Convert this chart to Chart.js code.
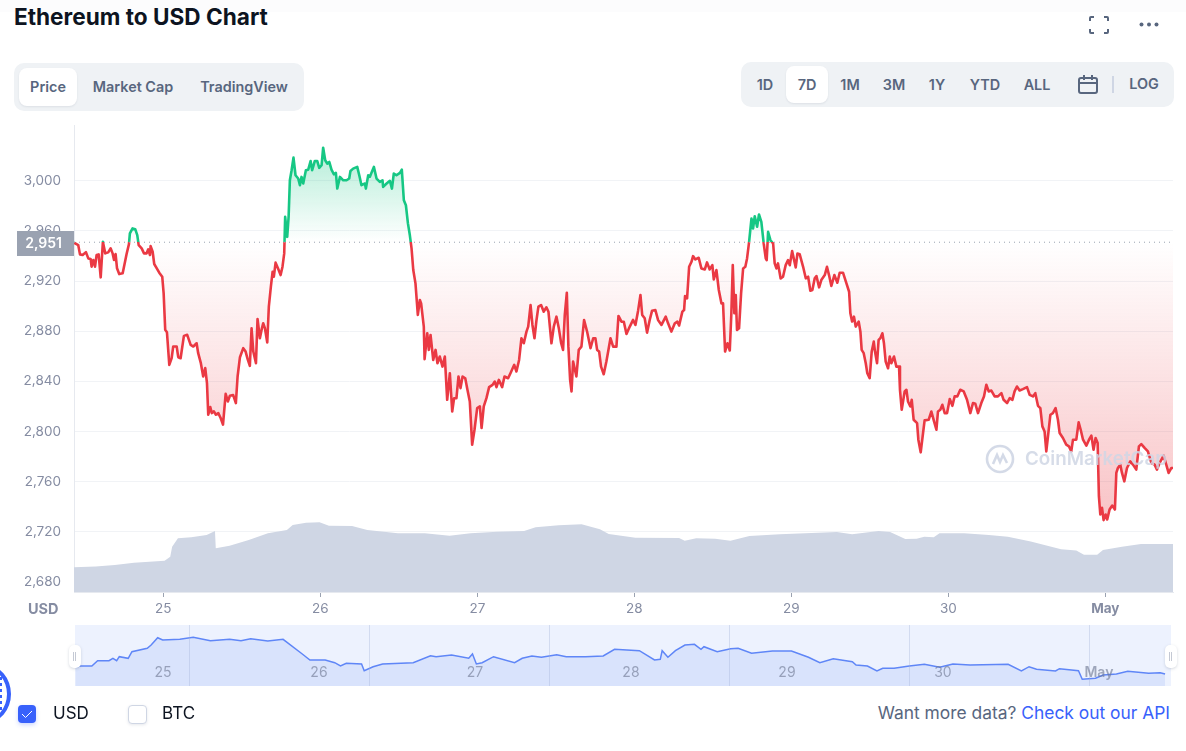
<!DOCTYPE html>
<html>
<head>
<meta charset="utf-8">
<title>Ethereum to USD Chart</title>
<script src="https://cdn.jsdelivr.net/npm/chart.js@4/dist/chart.umd.min.js"></script>
<style>
  html, body { margin: 0; padding: 0; background: #fff; }
  body { width: 1186px; height: 751px; position: relative; overflow: hidden; font-family: Inter, sans-serif; color: #58667e; }
  .abs { position: absolute; }
  .topstrip { left: 0; top: 0; width: 1186px; height: 12px; background: #fcfcfd; }
  h1 { position: absolute; left: 14px; top: 3px; margin: 0; font-size: 22.6px; line-height: 28px; font-weight: 700; color: #0d1421; white-space: nowrap; }
  .group { background: #eff2f5; border-radius: 10px; }
  .active { background: #fff; border-radius: 8px; box-shadow: 0 1px 2px rgba(88,102,126,.12); }
  .btn { position: absolute; font-size: 14.4px; font-weight: 600; line-height: 20px; transform: translateX(-50%); white-space: nowrap; }
  #mainChart { position: absolute; left: 0; top: 120px; }
  #navChart { position: absolute; left: 75px; top: 625px; background: #edf2fe; }
  .usd { left: 28px; top: 600px; font-size: 14.5px; line-height: 17px; font-weight: 700; color: #858ca2; }
  .navEdge { left: 1166px; top: 625px; width: 5px; height: 61px; background: #edf2fe; }
  .handle { top: 645px; width: 12px; height: 23px; background: #fff; border-radius: 5px; box-shadow: 0 1px 3px rgba(88,102,126,.25); }
  .handle::after { content: ""; position: absolute; left: 4px; top: 7px; width: 1px; height: 9px; border-left: 1.5px solid #c4c9d4; border-right: 1.5px solid #c4c9d4; }
  .mark { left: 985px; top: 444px; width: 30px; height: 30px; }
  .markText { left: 1025px; top: 446px; font-size: 18.8px; line-height: 26px; font-weight: 600; color: rgba(207,214,228,.85); white-space: nowrap; }
  .badge { left: -39px; top: 665px; width: 42px; height: 50px; border: 4px solid #3861fb; border-radius: 50%; }
  .badgeDots { left: 0; top: 677px; width: 2px; height: 34px; background: repeating-linear-gradient(#3861fb 0 3px, transparent 3px 6px); }
  .chk { top: 705px; width: 18px; height: 18px; border-radius: 4px; }
  .lab { top: 703px; font-size: 17px; line-height: 20px; color: #0d1421; }
  .more { right: 16px; top: 703px; font-size: 17.4px; line-height: 20px; white-space: nowrap; }
  .more a { color: #3861fb; text-decoration: none; }
</style>
</head>
<body>
<div class="abs topstrip"></div>
<h1>Ethereum to USD Chart</h1>

<svg class="abs" style="left:1089px;top:16px" width="20" height="18" viewBox="0 0 20 18" fill="none" stroke="#58667e" stroke-width="2">
  <path d="M1 5V2a1 1 0 0 1 1-1h3M15 1h3a1 1 0 0 1 1 1v3M19 13v3a1 1 0 0 1-1 1h-3M5 17H2a1 1 0 0 1-1-1v-3"/>
</svg>
<svg class="abs" style="left:1139px;top:22px" width="20" height="5" viewBox="0 0 20 5" fill="#58667e">
  <circle cx="2.5" cy="2.5" r="2"/><circle cx="10" cy="2.5" r="2"/><circle cx="17.5" cy="2.5" r="2"/>
</svg>

<div class="abs group" style="left:14px;top:63px;width:290px;height:48px"></div>
<div class="abs active" style="left:19px;top:68px;width:58px;height:38px"></div>
<div class="btn" style="left:48px;top:77px">Price</div>
<div class="btn" style="left:133px;top:77px">Market Cap</div>
<div class="btn" style="left:244px;top:77px">TradingView</div>

<div class="abs group" style="left:741px;top:62px;width:433px;height:45px"></div>
<div class="abs active" style="left:786px;top:66px;width:42px;height:37px"></div>
<div class="btn" style="left:765px;top:75px">1D</div>
<div class="btn" style="left:807px;top:75px">7D</div>
<div class="btn" style="left:850px;top:75px">1M</div>
<div class="btn" style="left:894px;top:75px">3M</div>
<div class="btn" style="left:937px;top:75px">1Y</div>
<div class="btn" style="left:985px;top:75px">YTD</div>
<div class="btn" style="left:1037px;top:75px">ALL</div>
<svg class="abs" style="left:1078px;top:75px" width="20" height="19" viewBox="0 0 20 19" fill="none" stroke="#58667e" stroke-width="2">
  <rect x="1" y="3" width="18" height="15" rx="2"/><path d="M1 8h18M6 0v5M14 0v5"/>
</svg>
<div class="abs" style="left:1112px;top:76px;width:2px;height:17px;background:#cfd6e4"></div>
<div class="btn" style="left:1144px;top:74px">LOG</div>

<canvas id="mainChart" width="1186" height="500"></canvas>
<div class="abs usd">USD</div>

<svg class="abs mark" viewBox="0 0 30 30" fill="none" stroke="rgba(207,214,228,.9)" stroke-width="2.6">
  <circle cx="15" cy="15" r="13"/><path d="M8 20l4-9 3 7 3-7 4 8"/>
</svg>
<div class="abs markText">CoinMarketCap</div>

<canvas id="navChart" width="1096" height="61"></canvas>
<div class="abs navEdge"></div>
<div class="abs handle" style="left:69px"></div>
<div class="abs handle" style="left:1165px"></div>

<div class="abs badge"></div>
<div class="abs badgeDots"></div>
<div class="abs chk" style="left:18px;background:#3861fb;box-shadow:0 2px 4px rgba(56,97,251,.25)">
  <svg width="18" height="18" viewBox="0 0 18 18" fill="none" stroke="#fff" stroke-width="1"><path d="M4 9l3.5 3.5L14 6"/></svg>
</div>
<div class="abs lab" style="left:53px">USD</div>
<div class="abs chk" style="left:128px;width:17px;height:17px;background:#fff;border:1px solid #cfd6e4;box-shadow:0 1px 3px rgba(88,102,126,.15)"></div>
<div class="abs lab" style="left:162px">BTC</div>
<div class="abs more">Want more data? <a>Check out our API</a></div>

<script>
const baselinePrice = 2951;

const yTickValues = [2680, 2720, 2760, 2800, 2840, 2880, 2920, 2960, 3000];
const xTickValues = [25, 26, 27, 28, 29, 30, 31];
const xTickLabels = ["25", "26", "27", "28", "29", "30", "May"];

// day of the month, April runs on so 31 is 1 May
const priceDays = [
  24.431,24.458,24.469,24.486,24.507,24.522,24.537,24.543,24.554,24.565,24.575,24.588,24.601,24.615,24.630,24.649,24.664,24.677,24.686,24.696,
  24.705,24.719,24.741,24.756,24.766,24.781,24.787,24.804,24.821,24.834,24.843,24.862,24.877,24.893,24.904,24.915,24.919,24.932,24.942,24.961,
  24.974,24.993,25.002,25.012,25.023,25.038,25.053,25.063,25.085,25.095,25.110,25.131,25.152,25.174,25.191,25.212,25.222,25.239,25.254,25.267,
  25.278,25.286,25.299,25.309,25.322,25.335,25.350,25.365,25.380,25.397,25.411,25.424,25.445,25.462,25.473,25.488,25.509,25.524,25.537,25.551,
  25.562,25.573,25.590,25.600,25.615,25.628,25.636,25.647,25.662,25.672,25.685,25.696,25.704,25.715,25.730,25.747,25.759,25.770,25.776,25.789,
  25.798,25.806,25.817,25.829,25.842,25.859,25.870,25.880,25.891,25.908,25.923,25.938,25.948,25.965,25.980,25.993,26.008,26.018,26.031,26.044,
  26.057,26.071,26.086,26.099,26.108,26.125,26.146,26.167,26.184,26.192,26.209,26.235,26.248,26.262,26.284,26.290,26.305,26.315,26.341,26.358,
  26.379,26.396,26.400,26.422,26.443,26.456,26.468,26.485,26.507,26.519,26.532,26.545,26.558,26.570,26.581,26.592,26.606,26.621,26.634,
  26.642,26.659,26.664,26.681,26.691,26.702,26.719,26.734,26.746,26.761,26.778,26.793,26.808,26.825,26.840,26.852,26.867,26.880,26.893,26.906,
  26.923,26.937,26.952,26.967,26.982,26.999,27.016,27.027,27.041,27.058,27.075,27.097,27.111,27.122,27.137,27.158,27.173,27.196,27.211,27.235,
  27.249,27.266,27.281,27.296,27.313,27.324,27.339,27.351,27.364,27.377,27.389,27.406,27.423,27.440,27.453,27.472,27.487,27.504,27.519,27.534,
  27.546,27.557,27.570,27.580,27.591,27.600,27.610,27.631,27.646,27.663,27.680,27.699,27.721,27.738,27.752,27.763,27.776,27.788,27.805,27.822,
  27.835,27.848,27.865,27.886,27.899,27.918,27.933,27.950,27.971,27.992,28.007,28.024,28.039,28.050,28.066,28.081,28.098,28.113,28.134,28.151,
  28.173,28.200,28.215,28.236,28.258,28.274,28.285,28.306,28.317,28.323,28.336,28.349,28.364,28.374,28.389,28.410,28.427,28.449,28.463,28.480,
  28.497,28.506,28.523,28.538,28.555,28.565,28.578,28.593,28.608,28.618,28.627,28.637,28.646,28.654,28.667,28.680,28.693,28.707,28.718,28.731,
  28.746,28.756,28.767,28.782,28.794,28.809,28.824,28.837,28.843,28.852,28.867,28.884,28.894,28.905,28.915,28.932,28.947,28.964,28.979,28.990,
  29.005,29.028,29.039,29.053,29.075,29.092,29.107,29.121,29.134,29.149,29.160,29.177,29.191,29.213,29.227,29.240,29.255,29.274,29.293,29.308,
  29.329,29.351,29.368,29.376,29.387,29.399,29.410,29.429,29.440,29.448,29.461,29.474,29.484,29.499,29.512,29.525,29.533,29.546,29.556,29.567,
  29.580,29.590,29.601,29.616,29.627,29.637,29.654,29.669,29.686,29.692,29.703,29.722,29.733,29.743,29.758,29.767,29.779,29.801,29.809,29.824,
  29.839,29.849,29.875,29.892,29.909,29.924,29.934,29.949,29.962,29.977,29.992,30.009,30.026,30.040,30.057,30.076,30.098,30.119,30.140,30.157,
  30.172,30.189,30.210,30.227,30.242,30.257,30.274,30.295,30.316,30.338,30.352,30.374,30.391,30.408,30.422,30.437,30.454,30.475,30.501,30.518,
  30.539,30.554,30.571,30.586,30.599,30.613,30.624,30.637,30.650,30.666,30.683,30.698,30.709,30.730,30.751,30.768,30.783,30.794,30.815,30.830,
  30.843,30.858,30.879,30.896,30.911,30.925,30.938,30.951,30.959,30.968,30.979,30.989,31.002,31.012,31.027,31.044,31.061,31.070,31.080,31.095,
  31.106,31.121,31.138,31.159,31.176,31.197,31.214,31.229,31.250,31.271,31.293,31.314,31.329,31.346,31.371,31.388,31.403,31.420,31.431
];
const priceValues = [
  2950.6,2948.7,2941.3,2940.8,2943.1,2938.1,2937.6,2931.5,2936.8,2931.5,2940.8,2941.3,2923,2951.4,2942.1,2942.9,2946.1,2942.1,2936.8,2941.6,
  2930.2,2925.6,2926.2,2935.4,2941.6,2949.5,2958,2962,2961.4,2956.7,2948.7,2946.1,2942.1,2942.1,2945.3,2940.8,2947.9,2943.4,2933.6,2929.6,
  2926.7,2923.5,2910.2,2881.1,2879.2,2853.2,2858.5,2867.8,2867.8,2859.3,2858.5,2876.3,2877.1,2869.1,2867.8,2870.4,2862.5,2854.5,2843.9,2850.6,
  2838.6,2813.4,2819.5,2814.7,2816.1,2813.4,2814.7,2810.8,2805.5,2830.1,2824,2828.5,2829.1,2822.7,2843.9,2859.3,2866.5,2863.8,2857.7,2852.4,
  2882.4,2863.8,2854.5,2889.8,2874.4,2882.4,2886.4,2882.4,2871,2899.6,2915.5,2927.5,2923.5,2934.7,2930.2,2924.8,2931.5,2942.1,2971.3,2955.3,
  2971.3,3000.4,3008.4,3018.5,3004.4,3001.8,2996.5,3003.1,2997.8,3008.4,3008.9,3015.8,3008.4,3015.8,3015.8,3010.3,3012.4,3026.4,3016.4,3013.7,
  3015,3008.9,3005.2,3006.3,2993.8,3003.1,3000.4,3000.4,3001.8,3007.9,3009.7,3011.1,3004.4,2996.5,2997.8,2993.8,3004.4,3003.1,3011.1,3001.8,
  2999.1,3000.4,2995.1,2997.8,3000,2993.8,3005.8,3004.4,3006.3,3008.9,2984.5,2980.5,2966,2956.7,2946.1,2928.8,2918.2,2893,2904.9,
  2902.2,2883.7,2857.7,2878.4,2865.1,2877,2857.1,2865.1,2854.5,2859.8,2851.8,2859.8,2825.3,2846.5,2816,2826.6,2826.6,2843.9,2834.6,2843.9,
  2842.5,2833.3,2824,2789.5,2801.4,2818.7,2820,2802.8,2820,2826.6,2835.4,2837.2,2839.9,2835.4,2841.2,2835.4,2843.9,2842.5,2846.5,2853.2,
  2847.9,2857.1,2874.4,2870.4,2879.7,2883.7,2900.9,2885,2874.4,2889,2899.6,2900.9,2895.6,2899.1,2895.6,2870.4,2883.7,2891.6,2882.3,2870.4,
  2865.1,2893,2910.7,2867.7,2841.2,2831.9,2855.8,2843.9,2865.1,2867.7,2889,2879.7,2866.4,2874.4,2874.4,2865.1,2863.8,2851.8,2845.7,2855.8,
  2865.1,2874.4,2867.7,2867.7,2892.2,2887.6,2887.6,2877.8,2883.7,2889,2885,2896.4,2908.9,2893,2890.3,2878.9,2889,2896.4,2896.9,2889,
  2885,2891.6,2886.3,2879.7,2886.3,2887.6,2884.5,2895.6,2896.9,2908.1,2906.2,2931.4,2935.4,2939.9,2937.3,2938.6,2930.1,2929.3,2934.9,2929.3,
  2932.7,2921.3,2928.8,2912.9,2902.2,2902.2,2863.8,2870.4,2864.6,2894.3,2932.7,2894.3,2908.9,2881,2882.3,2910.2,2930.1,2931.4,2938.1,2951.3,
  2969.9,2961.9,2971.7,2963.3,2973.1,2967.2,2950,2938.1,2936.7,2959.3,2952.6,2950,2934.1,2930.1,2934.1,2922.1,2923.5,2932.7,2936.7,2932.7,
  2943.9,2930.9,2942,2941.5,2931.4,2922.2,2923.5,2912.3,2912.9,2922.2,2924,2915,2920.8,2924.8,2931.4,2924.8,2916.1,2924.8,2918.7,2926.7,
  2926.7,2918.2,2911.5,2894.3,2887.7,2891.6,2883.7,2887.7,2879.7,2865.1,2862.5,2854.5,2846.5,2842.6,2863.8,2871.7,2863.8,2854.5,2873.1,2874.4,
  2878.4,2870.4,2855.8,2850.5,2859.8,2854.5,2859.8,2851.8,2851.8,2833.3,2817.4,2832,2833.3,2824,2820,2825.3,2809.4,2806.7,2793.5,2783.4,
  2798.8,2808.9,2809.4,2816,2808.1,2801.4,2816,2817.4,2821.3,2814.7,2814.7,2825.9,2820.5,2828,2828,2833.3,2832,2825.3,2814.7,2822.7,
  2822.1,2814.7,2822.7,2828,2837.3,2832,2832.7,2828,2828,2830.6,2825.3,2822.7,2826.6,2825.3,2832,2835.9,2832.7,2833.8,2835.4,2829.3,
  2828,2830.6,2820.5,2818.7,2804.1,2800.1,2784.2,2798.8,2813.4,2814.7,2818.7,2809.4,2798.8,2794.8,2789.5,2788.2,2784.2,2793.5,2793.5,2807.3,
  2801.4,2793.5,2788.7,2793.5,2796.7,2785.5,2794.8,2790.8,2748.4,2733.8,2739.1,2729.3,2733.8,2729.8,2737.8,2741,2737.8,2767,2770.9,2773.6,
  2767,2760.3,2770.9,2776.2,2773.6,2769.6,2788.2,2790,2786.9,2784.2,2774.9,2773.6,2769.6,2774.9,2780.8,2773.6,2767,2770.9,2770.9
];

const volumeDays = [
  24.431,24.569,24.691,24.813,25.008,25.044,25.056,25.093,25.178,25.276,25.329,25.334,25.422,25.544,25.666,25.787,25.824,25.909,25.995,26.055,
  26.202,26.299,26.494,26.665,26.823,26.957,27.128,27.298,27.371,27.518,27.664,27.781,27.837,28.007,28.285,28.321,28.394,28.515,28.612,28.733,
  28.927,29.169,29.290,29.387,29.556,29.629,29.726,29.798,29.847,29.907,29.944,30.101,30.258,30.379,30.525,30.718,30.815,30.864,30.948,30.985,
  31.106,31.227,31.431
];
// billions of dollars
const volumeValues = [
  7.06,7.25,7.72,8.39,8.96,10.1,12.96,15.34,15.62,16.29,17.43,12.48,13.24,14.86,16.77,17.72,19.15,19.81,19.91,18.96,
  18.86,17.72,16.77,16.77,16.1,16.77,17.24,17.43,18.48,19.05,19.34,17.91,16.58,15.53,15.43,14.67,15.34,15.24,14.67,16,
  16.48,16.96,17.15,16.48,17.43,17.15,15.15,15.24,15.81,15.62,16.77,16.77,16.29,15.81,14.39,12.2,11.82,10.67,10.67,12,
  12.96,13.72,13.72
];

const navDays = [
  24.438,24.470,24.544,24.581,24.654,24.679,24.703,24.720,24.777,24.801,24.899,24.924,24.966,24.998,25.108,25.194,25.304,25.427,25.500,25.562,
  25.672,25.770,25.893,25.942,26.040,26.101,26.138,26.175,26.273,26.290,26.347,26.408,26.604,26.715,26.751,26.850,26.960,26.984,27.009,27.046,
  27.119,27.254,27.303,27.365,27.426,27.524,27.585,27.708,27.822,27.895,28.054,28.151,28.188,28.200,28.237,28.285,28.346,28.407,28.449,28.468,
  28.553,28.639,28.687,28.773,28.907,29.029,29.138,29.211,29.297,29.419,29.443,29.516,29.577,29.614,29.687,29.784,29.881,29.979,30.064,30.174,
  30.418,30.503,30.552,30.600,30.722,30.747,30.869,30.893,30.978,31.027,31.112,31.185,31.319,31.393,31.424
];
const navValues = [
  2777,2790,2790,2843,2843,2867,2843,2883,2867,2933,2967,3000,3073,3050,3057,3077,3043,3057,3043,3063,
  3040,3057,2910,2850,2850,2823,2790,2817,2810,2743,2783,2810,2823,2893,2883,2900,2867,2910,2810,2823,
  2883,2823,2867,2890,2877,2903,2883,2883,2890,2957,2943,2850,2857,2943,2877,2943,3000,3007,2957,2983,
  2933,2963,2967,2917,2940,2940,2877,2823,2863,2833,2800,2790,2740,2767,2767,2790,2807,2777,2810,2800,
  2807,2740,2783,2757,2740,2763,2743,2657,2667,2700,2710,2737,2717,2723,2710
];
const navLabelDays = [25, 26, 27, 28, 29, 30, 31];
const navLabels = ["25", "26", "27", "28", "29", "30", "May"];
const navGridDays = [25.167, 26.321, 27.474, 28.628, 29.782, 30.936];

const RED = "#ea3943";
const GREEN = "#16c784";
const AXIS_TEXT = "#858ca2";

function formatPrice(n) {
  return new Intl.NumberFormat("en-US").format(n);
}

function toPoints(xs, ys) {
  return xs.map((x, i) => ({ x, y: ys[i] }));
}

function baselineStop(chart) {
  const { top, bottom } = chart.chartArea;
  const at = chart.scales.y.getPixelForValue(baselinePrice);
  return (at - top) / (bottom - top);
}

function lineGradient(ctx) {
  const chart = ctx.chart;
  if (!chart.chartArea) return RED;
  const { top, bottom } = chart.chartArea;
  const s = baselineStop(chart);
  const g = chart.ctx.createLinearGradient(0, top, 0, bottom);
  g.addColorStop(0, GREEN);
  g.addColorStop(s, GREEN);
  g.addColorStop(s, RED);
  g.addColorStop(1, RED);
  return g;
}

function fillGradient(ctx) {
  const chart = ctx.chart;
  if (!chart.chartArea) return "transparent";
  const { top, bottom } = chart.chartArea;
  const s = baselineStop(chart);
  const g = chart.ctx.createLinearGradient(0, top, 0, bottom);
  g.addColorStop(0, "rgba(22,199,132,0.40)");
  g.addColorStop(s, "rgba(22,199,132,0)");
  g.addColorStop(s, "rgba(234,57,67,0)");
  g.addColorStop(1, "rgba(234,57,67,0.38)");
  return g;
}

// grey tag on the y axis showing the opening price
const priceTag = {
  id: "priceTag",
  afterDraw(chart) {
    const c = chart.ctx;
    const at = Math.round(chart.scales.y.getPixelForValue(baselinePrice));
    c.save();
    c.fillStyle = "#9aa2b1";
    c.fillRect(17, at - 11, chart.chartArea.left - 17, 25);
    c.fillStyle = "#fff";
    c.font = "600 14px Inter";
    c.textAlign = "right";
    c.textBaseline = "middle";
    c.fillText(formatPrice(baselinePrice), chart.chartArea.left - 12, at + 1.5);
    c.restore();
  }
};

new Chart(document.getElementById("mainChart"), {
  type: "line",
  plugins: [priceTag],
  data: {
    datasets: [
      {
        label: "Open",
        data: toPoints([priceDays[0], priceDays[priceDays.length - 1]], [baselinePrice, baselinePrice]),
        borderColor: "#9aa2b1",
        borderWidth: 1,
        borderDash: [1, 4],
        pointRadius: 0,
        order: 0
      },
      {
        label: "Price",
        data: toPoints(priceDays, priceValues),
        borderColor: lineGradient,
        backgroundColor: fillGradient,
        fill: { value: baselinePrice },
        borderWidth: 2.6,
        borderJoinStyle: "round",
        pointRadius: 0,
        tension: 0,
        order: 1
      },
      {
        label: "Volume",
        data: toPoints(volumeDays, volumeValues),
        yAxisID: "yVolume",
        borderWidth: 0,
        backgroundColor: "#cfd6e4",
        fill: "origin",
        pointRadius: 0,
        tension: 0,
        order: 2
      }
    ]
  },
  options: {
    responsive: false,
    animation: false,
    layout: { padding: { top: 5, right: 13, left: 0, bottom: 0 } },
    plugins: { legend: { display: false }, tooltip: { enabled: false } },
    scales: {
      x: {
        type: "linear",
        min: priceDays[0],
        max: priceDays[priceDays.length - 1],
        afterBuildTicks: s => { s.ticks = xTickValues.map(value => ({ value })); },
        afterFit: s => { s.height = 28; s.paddingLeft = 0; s.paddingRight = 0; },
        grid: { drawOnChartArea: false, tickLength: 5, tickColor: "#9aa2b1" },
        border: { color: "#e6e9ef" },
        ticks: {
          color: AXIS_TEXT,
          padding: 4,
          maxRotation: 0,
          autoSkip: false,
          font: ctx => ({ family: "Inter", size: 13.5, weight: ctx.tick && ctx.tick.value === 31 ? "700" : "400" }),
          callback: v => xTickLabels[xTickValues.indexOf(v)]
        }
      },
      y: {
        min: 2672,
        max: 3044.5,
        afterBuildTicks: s => { s.ticks = yTickValues.map(value => ({ value })); },
        // padding would otherwise push the plot top down
        afterFit: s => { s.width = 74; s.paddingTop = 0; s.paddingBottom = 0; },
        grid: { color: "#f1f3f6", drawTicks: false },
        border: { color: "#e6e9ef" },
        ticks: {
          color: AXIS_TEXT,
          padding: 13,
          autoSkip: false,
          font: { family: "Inter", size: 13.5 },
          callback: v => formatPrice(v)
        }
      },
      yVolume: { display: false, min: 0, max: 133.4 }
    }
  }
});

// thin day lines and labels inside the navigator strip
const navOverlay = {
  id: "navOverlay",
  afterDatasetsDraw(chart) {
    const c = chart.ctx;
    const x = chart.scales.x;
    c.save();
    c.strokeStyle = "rgba(160,175,215,0.35)";
    c.lineWidth = 1;
    navGridDays.forEach(d => {
      const at = Math.round(x.getPixelForValue(d)) + 0.5;
      c.beginPath();
      c.moveTo(at, 0);
      c.lineTo(at, chart.height);
      c.stroke();
    });
    c.fillStyle = "rgba(110,120,145,0.62)";
    c.textAlign = "center";
    c.textBaseline = "middle";
    navLabelDays.forEach((d, i) => {
      c.font = (navLabels[i] === "May" ? "600 " : "400 ") + "14px Inter";
      c.fillText(navLabels[i], x.getPixelForValue(d), 48);
    });
    c.restore();
  }
};

new Chart(document.getElementById("navChart"), {
  type: "line",
  plugins: [navOverlay],
  data: {
    datasets: [{
      data: toPoints(navDays, navValues),
      borderColor: "#5f86f7",
      borderWidth: 1.5,
      backgroundColor: "#d9e3fc",
      fill: "origin",
      pointRadius: 0,
      tension: 0
    }]
  },
  options: {
    responsive: false,
    animation: false,
    layout: { padding: 0 },
    plugins: { legend: { display: false }, tooltip: { enabled: false } },
    scales: {
      x: { type: "linear", display: false, min: 24.436, max: 31.462 },
      y: { display: false, min: 2590, max: 3200 }
    }
  }
});
</script>
</body>
</html>
